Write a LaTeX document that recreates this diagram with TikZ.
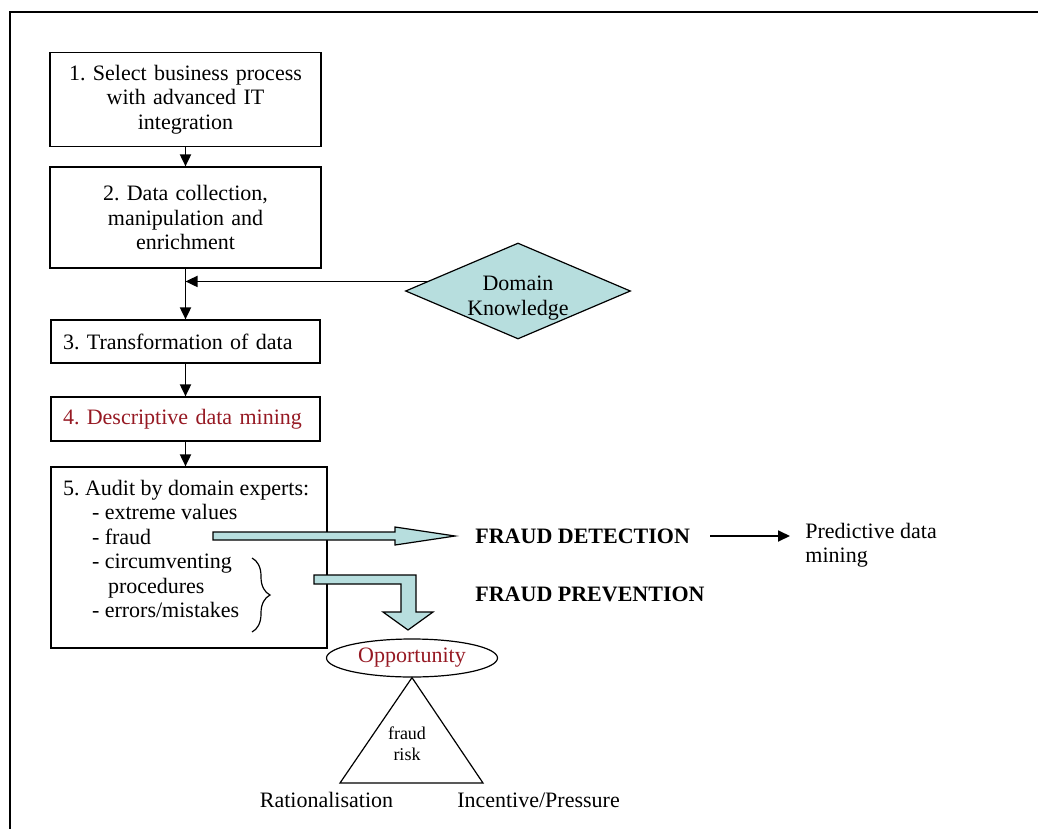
\documentclass[tikz,border=0pt]{standalone}
\usepackage{fontspec}
\setmainfont{Liberation Serif}
\usetikzlibrary{shapes.geometric,arrows.meta,decorations.pathreplacing}
\definecolor{paleteal}{RGB}{183,222,222}
\definecolor{stepred}{RGB}{150,25,35}
\frenchspacing
\begin{document}
\begin{tikzpicture}[x=0.5pt, y=-0.5pt,
    every node/.style={font=\fontsize{11}{12.25}\selectfont},
    stepbox/.style={draw, line width=0.6pt, inner xsep=6pt, inner ysep=0pt},
    flow/.style={-{Triangle[length=6pt,width=5.5pt]}, line width=0.9pt},
    fatarrow/.style={draw, line width=0.6pt, fill=paleteal}]
    \useasboundingbox (0,0) rectangle (1038,829);
    \clip (0,0) rectangle (1038,829);

    \draw[-, line width=1pt, color=black]
    (10,850) -- (10,12) -- (1060,12);

    \node[stepbox, text width=123.5pt, align=center, minimum height=47pt]
    (select) at (185.5,99.5) {1. Select business process\\with advanced IT\\integration};
    \node[stepbox, text width=123.5pt, align=center, minimum height=50.5pt]
    (collect) at (185.5,217.5) {2. Data collection,\\manipulation and\\enrichment};
    \node[stepbox, text width=122.5pt, align=left, minimum height=21.5pt]
    (transform) at (185.5,341.5) {3. Transformation of data};
    \node[stepbox, text width=122.5pt, align=left, minimum height=22pt, text=stepred]
    (mining) at (185.5,419) {4. Descriptive data mining};
    \node[stepbox]
    (audit) at (189,557.5) {\parbox[c][90.5pt][t]{126pt}{\raggedright\vspace*{6.5pt}%
      5. Audit by domain experts:\\
      \hspace*{14.5pt}- extreme values\\
      \hspace*{14.5pt}- fraud\\
      \hspace*{14.5pt}- circumventing\\
      \hspace*{22.5pt}procedures\\
      \hspace*{14.5pt}- errors/mistakes}};

    \node[draw, diamond, line width=0.6pt, fill=paleteal, aspect=2.34, inner sep=0pt,
      minimum width=112.5pt, minimum height=48pt]
    (knowledge) at (518,291)
    {\raisebox{-3.5pt}[\height][\depth]{\begin{tabular}{@{}c@{}}Domain\\Knowledge\end{tabular}}};

    \node[anchor=west, inner sep=0pt, font=\fontsize{11}{12.25}\selectfont\bfseries]
    (detect) at (475,536) {FRAUD DETECTION};
    \node[anchor=west, inner sep=0pt, font=\fontsize{11}{12.25}\selectfont\bfseries]
    (prevent) at (475,594) {FRAUD PREVENTION};
    \node[anchor=west, inner sep=0pt, align=left]
    (predict) at (805,545) {Predictive data\\mining};

    \node[draw, ellipse, line width=0.6pt, inner sep=0pt, minimum width=85.5pt,
      minimum height=19pt, text=stepred]
    (opportunity) at (412,658) {Opportunity};
    \coordinate (ratio) at (340,783);
    \coordinate (incent) at (483,783);
    \node[font=\fontsize{9}{10.5}\selectfont, align=center] (risk) at (407,744) {fraud\\risk};
    \node (ratiolbl) at (326.5,800) {Rationalisation};
    \node (incentlbl) at (538.5,800) {Incentive/Pressure};

    \draw[flow] (select) -- (collect);
    \draw[flow] (collect) -- (transform);
    \draw[flow] (transform) -- (mining);
    \draw[flow] (mining) -- (audit.north -| mining.south);
    \coordinate (merge) at (collect.south |- knowledge.174);
    \draw[flow] (knowledge.174) -- (merge);
    \draw[flow] ([xshift=10pt]detect.east) -- ([xshift=-7.5pt]predict.west |- detect.east);

    \draw[fatarrow]
    (213,532) -- (395,532) -- (395,527) -- (455,536) -- (395,545) -- (395,540) -- (213,540) -- cycle;
    \draw[fatarrow]
    (314,575) -- (416,575) -- (416,612) -- (433,612) -- (408,630) -- (383,612) -- (401,612)
    -- (401,584) -- (314,584) -- cycle;

    \draw[line width=0.6pt, decorate, decoration={brace, amplitude=9pt}]
    (252,558) -- (252,632);

    \draw[-, line width=0.6pt]
    (opportunity.south) -- (ratio) -- (incent) -- cycle;

  \end{tikzpicture}
\end{document}
